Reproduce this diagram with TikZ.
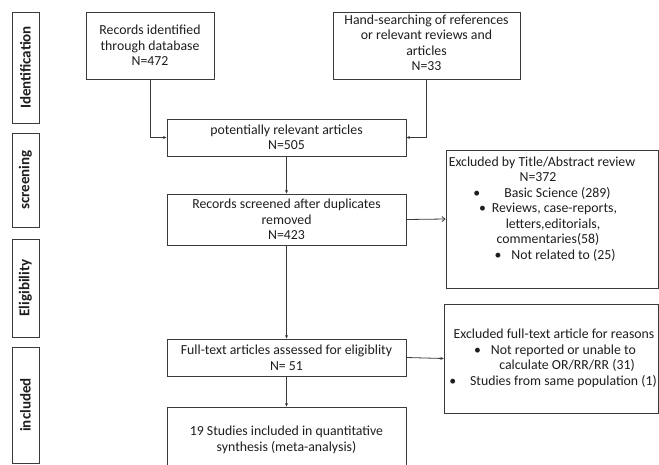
\documentclass[tikz,border=0pt]{standalone}
\usepackage{fontspec}
\setmainfont{Carlito}
\usetikzlibrary{arrows.meta}
\definecolor{ln}{HTML}{3A3A3A}
\definecolor{tx}{HTML}{1E1E1E}
\tikzset{
  box/.style={draw=ln, line width=0.9pt, fill=white, align=center, inner sep=2pt,
    font=\fontsize{13.8}{15.5}\selectfont, text=tx},
  side/.style={draw=ln, line width=0.9pt, rotate=90, inner sep=1pt,
    font=\fontsize{15}{17}\selectfont\bfseries, text=tx},
  arr/.style={draw=ln, line width=0.8pt, -{Stealth[length=3.5pt,width=3pt]}},
  arrx/.style={draw=ln, line width=0.8pt, -{Straight Barb[length=3pt,width=5pt]}}
}
\begin{document}
\begin{tikzpicture}[x=1pt,y=-1pt]
\useasboundingbox (0,0) rectangle (659,464);
\begin{scope}
\clip (0,0) rectangle (659,464);
% side labels
\node[side, minimum width=111pt, minimum height=27pt] (sid) at (25.5,67.5) {Identification};
\node[side, minimum width=94pt, minimum height=27pt] (ssc) at (25.5,180) {screening};
\node[side, minimum width=98pt, minimum height=27pt] (sel) at (25.5,288) {Eligibility};
\node[side, minimum width=116pt, minimum height=27pt] (sin) at (25.5,405) {included};
% main boxes
\node[box, minimum width=128pt, minimum height=67pt] (b1) at (150,45.5) {Records identified\\through database\\N=472};
\node[box, minimum width=187pt, minimum height=67pt] (b2) at (426.5,45.5) {Hand-searching of references\\or relevant reviews and\\articles\\N=33\\[-10pt]\mbox{}};
\node[box, minimum width=239pt, minimum height=37pt] (b3) at (286.5,137.5) {potentially relevant articles\\N=505};
\node[box, minimum width=239pt, minimum height=51pt] (b4) at (286.5,219.5) {Records screened after duplicates\\removed\\N=423};
\node[box, minimum width=239pt, minimum height=37pt] (b5) at (286.5,357.5) {Full-text articles assessed for eligiblity\\N= 51};
\node[box, minimum width=239pt, minimum height=66pt] (b6) at (286.5,440) {19 Studies included in quantitative\\synthesis (meta-analysis)};
% exclusion boxes
\node[box, minimum width=212pt, minimum height=138pt] (ex1) at (552,219) {%
\hspace*{-20pt}Excluded by Title/Abstract review\\
\hspace*{-28pt}N=372\\
\hspace*{-20pt}\textbullet\hspace{24pt}Basic Science (289)\\
\hspace*{-8pt}\textbullet\hspace{6pt}Reviews, case-reports,\\
\hspace*{2pt}letters,editorials,\\
\hspace*{-8pt}commentaries(58)\\
\hspace*{6pt}\textbullet\hspace{10pt}Not related to (25)\\[6.5pt]\mbox{}};
\node[box, minimum width=213pt, minimum height=109pt] (ex2) at (551.5,358.5) {%
\hspace*{5pt}Excluded full-text article for reasons\\
\hspace*{7pt}\textbullet\hspace{10pt}Not reported or unable to\\
\hspace*{31pt}calculate OR/RR/RR (31)\\
\hspace*{3pt}\textbullet\hspace{14pt}Studies from same population (1)};
\end{scope}
% connectors
\draw[arr] (b1.south) |- (b3.west);
\draw[arr] (b2.south) |- (b3.east);
\draw[arr] (b3.south) -- (b4.north);
\draw[arrx] (b4.east) -- (ex1.west);
\draw[arr] (b4.south) -- (b5.north);
\draw[arr] (b5.east) -- (ex2.west);
\draw[arr] (b5.south) -- (b6.north);
\end{tikzpicture}
\end{document}
